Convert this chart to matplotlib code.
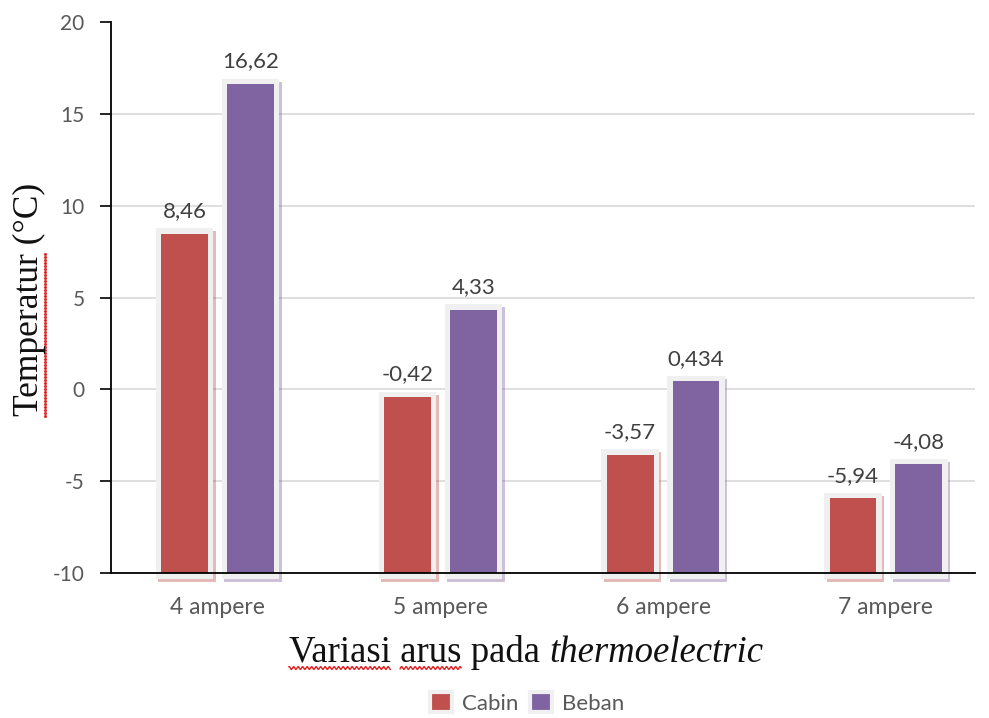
import numpy as np
import matplotlib
matplotlib.use("Agg")
import matplotlib.pyplot as plt
from matplotlib import transforms
from matplotlib.lines import Line2D
from matplotlib.patches import Patch

plt.rcParams.update({"font.family": ["Lato", "DejaVu Sans"]})

CURRENTS = ["4 ampere", "5 ampere", "6 ampere", "7 ampere"]
CABIN = [8.46, -0.42, -3.57, -5.94]
BEBAN = [16.62, 4.33, 0.434, -4.08]
CABIN_TXT = ["8,46", "-0,42", "-3,57", "-5,94"]
BEBAN_TXT = ["16,62", "4,33", "0,434", "-4,08"]
Y_TICKS = [-10, -5, 0, 5, 10, 15, 20]
BASE = -10

RED = "#c0504d"
PURPLE = "#8064a2"
FRAME = "#f0f0f0"
TXT = "#595959"
W, H = 989, 718

fig = plt.figure(figsize=(W / 100, H / 100), dpi=100)
ax = fig.add_axes([111 / W, 145 / H, 864 / W, 551 / H])
ax.set_xlim(-0.478, 3.40)
ax.set_ylim(-10, 20)


def framed_bars(xs, vals, color, w=0.21):
    padx, pady = 0.024, 0.3
    heights = np.array(vals) - BASE
    shadow = transforms.offset_copy(ax.transData, fig=fig, x=2.5, y=-3, units="dots")
    ax.bar(xs, heights + 2 * pady, bottom=BASE - pady, width=w + 2 * padx,
           color=color, alpha=0.4, transform=shadow, clip_on=False, zorder=2)
    ax.bar(xs, heights + 2 * pady, bottom=BASE - pady, width=w + 2 * padx,
           color=FRAME, clip_on=False, zorder=3)
    ax.bar(xs, heights, bottom=BASE, width=w, color=color, zorder=4)


x = np.arange(len(CURRENTS))
off = 0.148
framed_bars(x - off, CABIN, RED)
framed_bars(x + off, BEBAN, PURPLE)

for xi, v, t in zip(x - off, CABIN, CABIN_TXT):
    ax.annotate(t, (xi, v), xytext=(0, 12), textcoords="offset points",
                ha="center", va="baseline", fontsize=16, color="#404040", zorder=6)
for xi, v, t in zip(x + off, BEBAN, BEBAN_TXT):
    ax.annotate(t, (xi, v), xytext=(0, 12), textcoords="offset points",
                ha="center", va="baseline", fontsize=16, color="#404040", zorder=6)

ax.set_yticks(Y_TICKS)
ax.set_yticklabels([str(v) for v in Y_TICKS])
ax.set_xticks(x)
ax.set_xticklabels(CURRENTS)
ax.tick_params(axis="y", length=8, width=1.2, pad=11, labelsize=15, labelcolor=TXT)
ax.tick_params(axis="x", length=0, pad=17, labelsize=16.5, labelcolor=TXT)
for yv in Y_TICKS[1:-1]:
    ax.axhline(yv, color="#d9d9d9", lw=1.2, zorder=0)

for s in ("top", "right"):
    ax.spines[s].set_visible(False)
for s in ("left", "bottom"):
    ax.spines[s].set_color("black")
    ax.spines[s].set_linewidth(1.3)
    ax.spines[s].set_zorder(5)

handles = [Patch(facecolor=RED, edgecolor=FRAME, linewidth=3, label="Cabin"),
           Patch(facecolor=PURPLE, edgecolor=FRAME, linewidth=3, label="Beban")]
fig.legend(handles=handles, loc="center", bbox_to_anchor=(527 / W, 1 - 703 / H),
           ncol=2, frameon=False, fontsize=16, handlelength=1.0, handleheight=1.0,
           columnspacing=0.5, handletextpad=0.45, labelcolor=TXT)

# axis titles in serif, with spell-check squiggles under some words
serif = "Liberation Serif"
fig.canvas.draw()
rend = fig.canvas.get_renderer()


def width_px(s, **kw):
    t = fig.text(0, 0, s, **kw)
    wpx = t.get_window_extent(rend).width
    t.remove()
    return wpx


def squiggle(x0, x1, y):
    xs = np.arange(x0, x1, 0.5)
    ys = y + 1.4 * np.sin(xs / 4.5 * 2 * np.pi)
    fig.add_artist(Line2D(xs / W, ys / H, color="#e02020", lw=1.0))


xl_size = 26.5
plain = "Variasi arus pada "
w_plain = width_px(plain + "x", family=serif, size=xl_size) - width_px("x", family=serif, size=xl_size)
w_ital = width_px("thermoelectric", family=serif, size=xl_size, style="italic")
cx, base_y = 526, 718 - 662
x0 = cx - (w_plain + w_ital) / 2
fig.text(x0 / W, base_y / H, plain, family=serif, size=xl_size, color="#111111",
         ha="left", va="baseline")
fig.text((x0 + w_plain) / W, base_y / H, "thermoelectric", family=serif, size=xl_size,
         style="italic", color="#111111", ha="left", va="baseline")
w_var = width_px("Variasi", family=serif, size=xl_size)
w_va = width_px("Variasi arus", family=serif, size=xl_size)
w_arus = width_px("arus", family=serif, size=xl_size)
squiggle(x0, x0 + w_var, base_y - 6)
squiggle(x0 + w_va - w_arus, x0 + w_va, base_y - 6)

yl_size = 25.5
yl = fig.text(29 / W, 1 - 299 / H, "Temperatur (°C)", family=serif, size=yl_size,
              color="#111111", rotation=90, ha="center", va="center")
bb = yl.get_window_extent(rend)
w_temp = width_px("Temperatur", family=serif, size=yl_size)
ys = np.arange(bb.y0, bb.y0 + w_temp, 3.0)
fig.add_artist(Line2D(np.full_like(ys, bb.x1 - 1) / W, ys / H, color="#e02020",
                      lw=1.2, ls="none", marker="s", ms=1.0))

fig.savefig("out.png", dpi=100, facecolor="white")
